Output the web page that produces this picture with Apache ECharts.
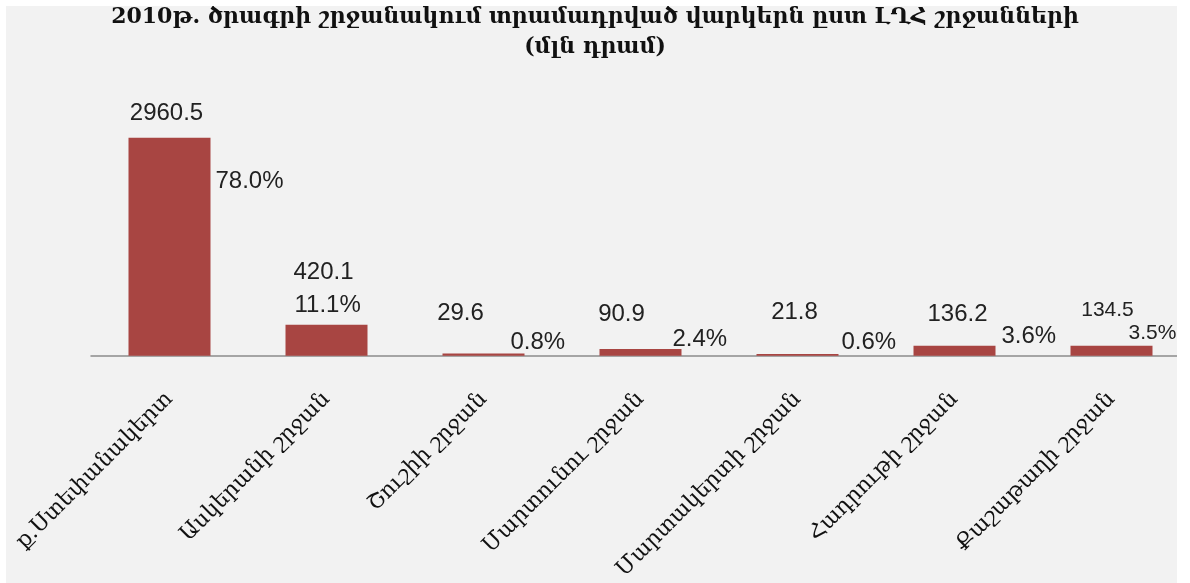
<!DOCTYPE html>
<html>
<head>
<meta charset="utf-8">
<script src="https://cdn.jsdelivr.net/npm/echarts@6/dist/echarts.min.js"></script>
<style>
html,body{margin:0;padding:0;background:#fff;}
#bg{position:absolute;left:6px;top:6px;width:1171px;height:577px;background:#f2f2f2;overflow:hidden;}
#chart{position:absolute;left:-6px;top:-6px;width:1190px;height:583px;}
</style>
</head>
<body>
<div id="bg"><div id="chart"></div></div>
<script>
const titleLine1 = '2010թ. ծրագրի շրջանակում տրամադրված վարկերն ըստ ԼՂՀ շրջանների';
const titleLine2 = '(մլն դրամ)';
const categories = ['ք.Ստեփանակերտ', 'Ասկերանի շրջան', 'Շուշիի շրջան', 'Մարտունու շրջան', 'Մարտակերտի շրջան', 'Հադրութի շրջան', 'Քաշաթաղի շրջան'];
const amounts = [2960.5, 420.1, 29.6, 90.9, 21.8, 136.2, 134.5];
const shares = [78.0, 11.1, 0.8, 2.4, 0.6, 3.6, 3.5];

// label placement and sizes (px), kept apart from the data
const valueLabelOffsets = [[-3, -12], [-3, -40], [-23, -28], [-19, -23], [-3, -30], [3, -19], [-4, -25]];
const shareLabelOffsets = [[5, 44], [-73, -19], [-14, -11], [-9, -10], [3, -12], [6, -9], [-24, -13]];
const labelSizes = [24, 24, 24, 24, 24, 24, 21];

const BAR = '#A84542';
const labelFont = 'Liberation Sans';

const chart = echarts.init(document.getElementById('chart'), null, {renderer: 'canvas'});

const mainData = amounts.map((v, i) => ({
  value: v,
  label: {offset: valueLabelOffsets[i], fontSize: labelSizes[i]}
}));
const shareData = amounts.map((v, i) => ({
  value: v,
  label: {
    formatter: shares[i].toFixed(1) + '%',
    offset: shareLabelOffsets[i],
    fontSize: labelSizes[i]
  }
}));

chart.setOption({
  animation: false,
  backgroundColor: 'transparent',
  title: {
    text: titleLine1 + '\n' + titleLine2,
    left: 'center',
    top: -3,
    textStyle: {
      fontFamily: 'DejaVu Serif',
      fontSize: 22,
      fontWeight: 'bold',
      color: '#111',
      lineHeight: 30
    }
  },
  grid: {left: 91, width: 1100, top: 98, height: 258, containLabel: false},
  xAxis: {
    type: 'category',
    data: categories,
    axisLine: {lineStyle: {color: '#8c8c8c', width: 1.5}},
    axisTick: {show: false},
    axisLabel: {
      interval: 0,
      rotate: 45,
      margin: 40,
      fontFamily: 'DejaVu Serif',
      fontSize: 22,
      color: '#111'
    }
  },
  yAxis: {
    type: 'value',
    min: 0,
    max: 3500,
    show: false
  },
  series: [
    {
      type: 'bar',
      data: mainData,
      barWidth: 82,
      itemStyle: {color: BAR},
      label: {
        show: true,
        position: 'top',
        distance: 0,
        fontFamily: labelFont,
        fontSize: 24,
        color: '#222'
      }
    },
    {
      type: 'bar',
      data: shareData,
      barWidth: 82,
      barGap: '-100%',
      itemStyle: {color: 'rgba(0,0,0,0)'},
      label: {
        show: true,
        position: ['100%', 0],
        align: 'left',
        verticalAlign: 'middle',
        fontFamily: labelFont,
        fontSize: 24,
        color: '#222'
      }
    }
  ]
});
</script>
</body>
</html>
